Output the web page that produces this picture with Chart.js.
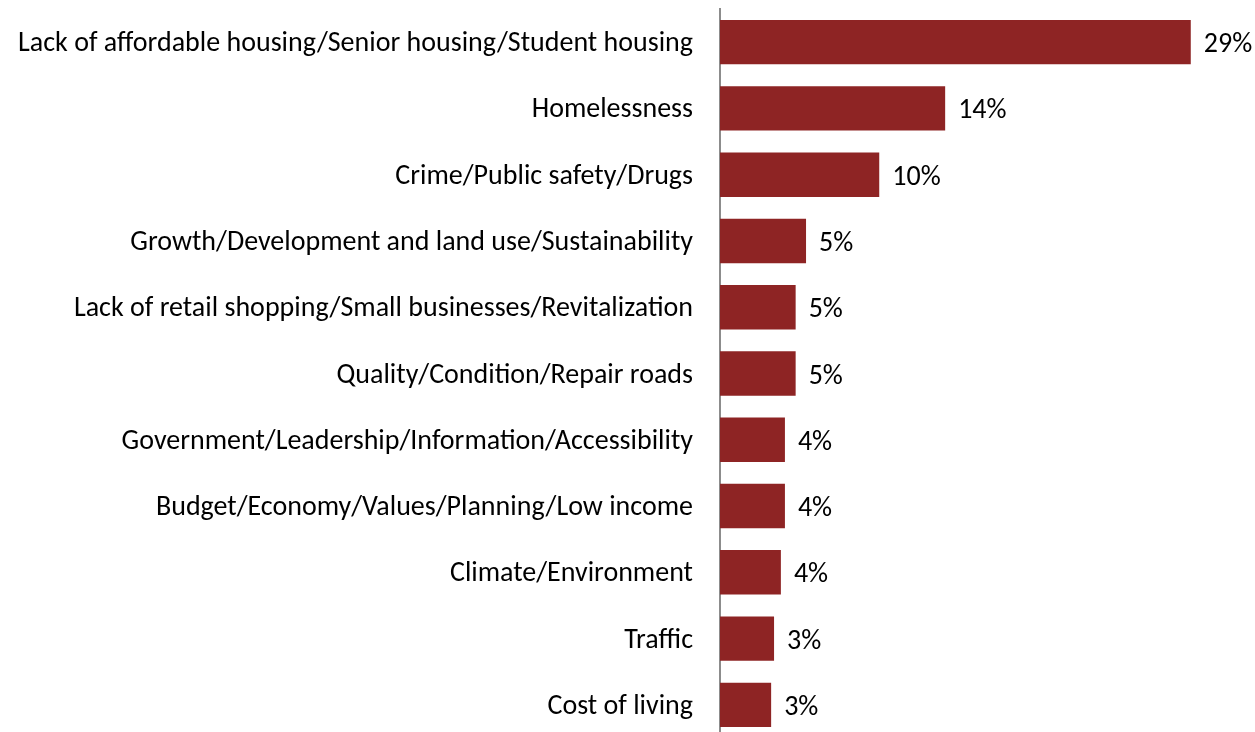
<!DOCTYPE html>
<html>
<head>
<meta charset="utf-8">
<script src="https://cdn.jsdelivr.net/npm/chart.js@4"></script>
<style>
  html, body { margin: 0; padding: 0; background: #fff; overflow: hidden; }
  canvas { display: block; }
</style>
</head>
<body>
<canvas id="issues" width="1255" height="740"></canvas>
<script>
var categories = [
  'Lack of affordable housing/Senior housing/Student housing',
  'Homelessness',
  'Crime/Public safety/Drugs',
  'Growth/Development and land use/Sustainability',
  'Lack of retail shopping/Small businesses/Revitalization',
  'Quality/Condition/Repair roads',
  'Government/Leadership/Information/Accessibility',
  'Budget/Economy/Values/Planning/Low income',
  'Climate/Environment',
  'Traffic',
  'Cost of living'
];
var shares = [29.0, 13.87, 9.81, 5.3, 4.66, 4.66, 4.0, 4.0, 3.75, 3.33, 3.15];
// printed labels
var shareLabels = ['29%', '14%', '10%', '5%', '5%', '5%', '4%', '4%', '4%', '3%', '3%'];

var fontFamily = 'Carlito, Calibri, Lato, sans-serif';
var fontSize = 28;

// write the percent text to the right of each bar
var barLabels = {
  id: 'barLabels',
  afterDatasetsDraw: function (chart) {
    var ctx = chart.ctx;
    var meta = chart.getDatasetMeta(0);
    ctx.save();
    ctx.font = fontSize + 'px ' + fontFamily;
    ctx.fillStyle = '#000';
    ctx.textAlign = 'left';
    ctx.textBaseline = 'middle';
    meta.data.forEach(function (bar, i) {
      ctx.fillText(shareLabels[i], bar.x + 13, bar.y + 3);
    });
    ctx.restore();
  }
};

var ctx = document.getElementById('issues').getContext('2d');
var chart = new Chart(ctx, {
  type: 'bar',
  data: {
    labels: categories,
    datasets: [{
      data: shares,
      backgroundColor: '#8E2424',
      borderWidth: 0,
      categoryPercentage: 1,
      barPercentage: 0.67
    }]
  },
  options: {
    indexAxis: 'y',
    responsive: false,
    animation: false,
    layout: { padding: { top: 9, bottom: 2, right: 48, left: 0 } },
    plugins: {
      legend: { display: false },
      tooltip: { enabled: false }
    },
    scales: {
      x: {
        display: false,
        min: 0,
        max: 30
      },
      y: {
        afterFit: function (scale) {
          scale.width = 720;
          scale.paddingTop = 0;
          scale.paddingBottom = 0;
        },
        grid: { display: false, drawTicks: false },
        border: { display: true, color: '#8c8c8c', width: 2 },
        ticks: {
          color: '#000',
          padding: 27,
          labelOffset: 2,
          autoSkip: false,
          font: { family: fontFamily, size: fontSize }
        }
      }
    }
  },
  plugins: [barLabels]
});
</script>
</body>
</html>
